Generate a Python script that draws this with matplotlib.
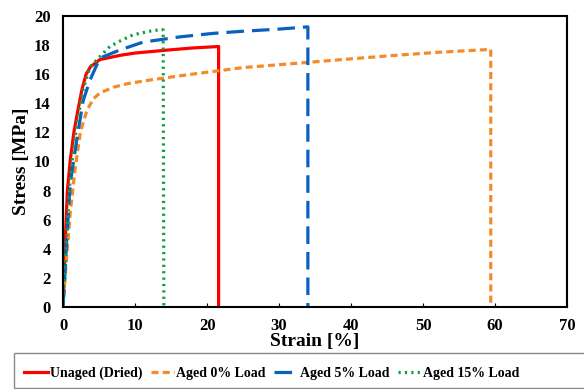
import matplotlib
matplotlib.use("Agg")
import matplotlib.pyplot as plt
from matplotlib.patches import Rectangle

plt.rcParams['font.family'] = ['Liberation Serif', 'DejaVu Serif']
plt.rcParams['font.weight'] = 'bold'

unaged_x = [0, 0.3, 0.6, 1.0, 1.5, 1.9, 2.6, 3.2, 3.8, 5.1, 8, 10, 14.4, 18, 21.6, 21.6]
unaged_y = [0, 4.5, 8.0, 10.1, 12.0, 13.1, 14.9, 16.0, 16.5, 17.0, 17.3, 17.45, 17.65, 17.8, 17.9, 0]

aged0_x = [0, 0.5, 1.0, 1.7, 2.4, 3.3, 4.2, 5.1, 7, 9, 12.1, 17.2, 25, 35, 45, 52, 59.4, 59.4]
aged0_y = [0, 3.5, 6.5, 9.6, 12.0, 13.5, 14.3, 14.7, 15.1, 15.35, 15.6, 15.95, 16.45, 16.85, 17.25, 17.5, 17.7, 0]

aged5_x = [0, 0.5, 1.0, 1.9, 2.8, 3.75, 5.1, 7.9, 11.1, 16.2, 20.8, 25, 30.1, 34.0, 34.0]
aged5_y = [0, 4.5, 8.5, 11.5, 14.2, 15.6, 17.1, 17.66, 18.2, 18.56, 18.8, 18.95, 19.1, 19.25, 0]

aged15_x = [0, 0.5, 1.0, 1.9, 2.8, 3.75, 5.1, 6.5, 8, 9.7, 12.5, 13.9, 14.0]
aged15_y = [0, 5.0, 9.0, 12.5, 15.0, 16.5, 17.2, 17.9, 18.3, 18.7, 19.0, 19.05, 0]

xticks = list(range(0, 71, 10))
yticks = list(range(0, 21, 2))

fig = plt.figure(figsize=(5.84, 3.89), dpi=100)
ax = fig.add_axes([0.108, 0.211, 0.863, 0.748])

l1, = ax.plot(unaged_x, unaged_y, color='#ff0000', lw=2.3, label='Unaged (Dried)')
l2, = ax.plot(aged0_x, aged0_y, color='#f58a2a', lw=2.3, ls=(0, (2.2, 1.3)), label='Aged 0% Load')
l3, = ax.plot(aged5_x, aged5_y, color='#0860c0', lw=2.3, ls=(0, (5.5, 2.5)), label='Aged 5% Load')
l4, = ax.plot(aged15_x, aged15_y, color='#12a03a', lw=2.3, ls=(0, (0.7, 1.3)), label='Aged 15% Load')

ax.set_xlim(0, 70)
ax.set_ylim(0, 20)
ax.set_xticks(xticks)
ax.set_yticks(yticks)
ax.tick_params(axis='x', direction='in', length=3, labelsize=12, pad=8)
ax.tick_params(axis='y', length=0, labelsize=12, pad=9)
for lab in ax.get_xticklabels() + ax.get_yticklabels():
    lab.set_fontweight('bold')
for s in ax.spines.values():
    s.set_linewidth(1.5)
ax.set_xlabel('Strain [%]', fontsize=14, fontweight='bold', labelpad=-1)
ax.set_ylabel('Stress [MPa]', fontsize=14, fontweight='bold', labelpad=3)

fig.patches.append(Rectangle((14 / 584, 1 - 388 / 389), 1.0, (388 - 353) / 389,
                             transform=fig.transFigure, fill=False,
                             edgecolor='#888888', linewidth=1.0))

leg = fig.legend(handles=[l1, l2, l3, l4], loc='center left',
                 bbox_to_anchor=(24 / 584, 1 - 373 / 389),
                 ncol=4, frameon=False, handlelength=1.7,
                 handletextpad=0.15, columnspacing=0.6, borderpad=0, borderaxespad=0,
                 prop={'weight': 'bold', 'size': 10})

fig.savefig('out.png', dpi=100)
